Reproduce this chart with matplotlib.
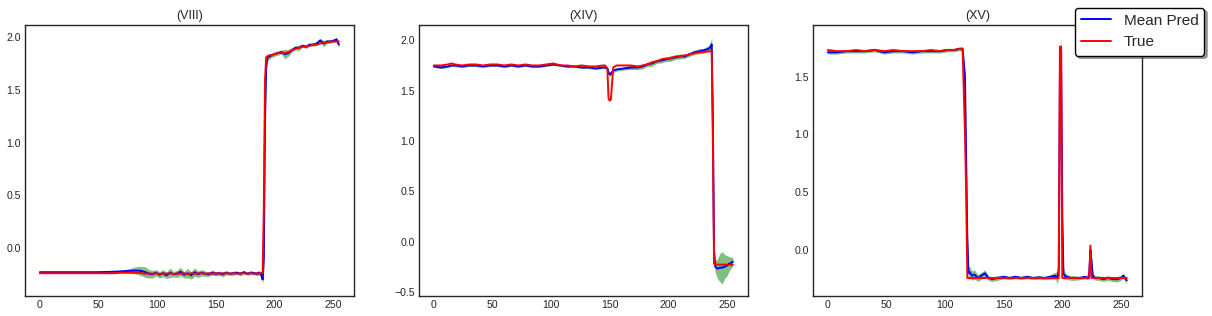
import matplotlib
matplotlib.use("Agg")
import matplotlib.pyplot as plt
import numpy as np

plt.style.use("seaborn-v0_8-white")
plt.rcParams['font.family'] = ['Liberation Sans', 'DejaVu Sans']

# ---- panel (VIII) ----
x_viii = [0, 8, 16, 24, 32, 40, 48, 56, 64, 70,
          76, 80, 84, 87, 90, 93, 96, 99, 102, 105,
          108, 111, 114, 117, 120, 123, 126, 129, 132, 135,
          138, 141, 144, 147, 150, 153, 156, 159, 162, 165,
          168, 171, 174, 177, 180, 183, 185, 187, 189, 190,
          191, 192, 193,
          194, 196, 198, 200, 203, 206, 209, 212, 215, 218, 221, 224,
          227, 230, 233, 236, 239, 242, 245, 248, 251, 253, 255]
true_viii = [-0.24, -0.24, -0.24, -0.24, -0.24, -0.24, -0.24, -0.24, -0.24, -0.235,
             -0.235, -0.235, -0.235, -0.24, -0.245, -0.24, -0.245, -0.24, -0.25, -0.24,
             -0.245, -0.24, -0.25, -0.24, -0.245, -0.24, -0.25, -0.24, -0.245, -0.24,
             -0.24, -0.245, -0.24, -0.245, -0.24, -0.245, -0.24, -0.24, -0.245, -0.24,
             -0.245, -0.24, -0.24, -0.245, -0.24, -0.245, -0.24, -0.245, -0.24, -0.24,
             0.4, 1.6, 1.81,
             1.82, 1.83, 1.83, 1.84, 1.85, 1.85, 1.85, 1.86, 1.88, 1.89, 1.90, 1.91,
             1.91, 1.92, 1.93, 1.93, 1.94, 1.95, 1.95, 1.96, 1.96, 1.96, 1.96]
mean_viii = [-0.23, -0.23, -0.23, -0.23, -0.23, -0.23, -0.23, -0.228, -0.225, -0.222,
             -0.218, -0.215, -0.215, -0.22, -0.23, -0.245, -0.25, -0.235, -0.255, -0.24,
             -0.26, -0.235, -0.25, -0.245, -0.225, -0.255, -0.24, -0.26, -0.23, -0.25,
             -0.235, -0.245, -0.25, -0.235, -0.245, -0.24, -0.25, -0.235, -0.245, -0.24,
             -0.235, -0.245, -0.23, -0.245, -0.235, -0.24, -0.245, -0.235, -0.26, -0.30,
             -0.1, 1.2, 1.72,
             1.80, 1.82, 1.83, 1.84, 1.85, 1.86, 1.84, 1.85, 1.88, 1.90, 1.90, 1.92,
             1.91, 1.93, 1.93, 1.94, 1.97, 1.94, 1.96, 1.96, 1.97, 1.98, 1.93]
std_viii = [0.005, 0.005, 0.005, 0.005, 0.005, 0.005, 0.005, 0.008, 0.01, 0.012,
            0.02, 0.03, 0.04, 0.045, 0.05, 0.04, 0.035, 0.03, 0.03, 0.035,
            0.03, 0.045, 0.025, 0.035, 0.04, 0.03, 0.045, 0.035, 0.04, 0.03,
            0.03, 0.025, 0.02, 0.025, 0.02, 0.02, 0.025, 0.02, 0.015, 0.02,
            0.015, 0.02, 0.015, 0.015, 0.02, 0.015, 0.02, 0.02, 0.025, 0.04,
            0.1, 0.12, 0.06,
            0.03, 0.025, 0.02, 0.02, 0.02, 0.02, 0.045, 0.03, 0.02, 0.02, 0.025, 0.015,
            0.015, 0.015, 0.015, 0.02, 0.02, 0.03, 0.02, 0.015, 0.015, 0.02, 0.03]

# ---- panel (XIV) ----
x_xiv = [0, 6, 12, 15, 18, 24, 30, 36, 42, 48,
         54, 60, 66, 72, 78, 84, 90, 96, 102, 108,
         114, 120, 126, 132, 138, 144, 146, 148, 149, 150,
         151, 153, 156, 162, 168, 174, 178, 182, 186, 190,
         194, 198, 202, 206, 210, 214, 218, 222, 226, 230,
         233, 235, 236, 237, 238, 239, 240, 242, 244, 246,
         248, 250, 252, 254, 255]
true_xiv = [1.75, 1.75, 1.76, 1.77, 1.76, 1.75, 1.76, 1.76, 1.75, 1.76,
            1.76, 1.75, 1.76, 1.75, 1.76, 1.75, 1.75, 1.76, 1.77, 1.75,
            1.75, 1.74, 1.75, 1.74, 1.74, 1.75, 1.75, 1.72, 1.42, 1.40,
            1.41, 1.73, 1.75, 1.75, 1.75, 1.74, 1.75, 1.76, 1.78, 1.79,
            1.81, 1.82, 1.82, 1.84, 1.84, 1.85, 1.86, 1.87, 1.88, 1.88,
            1.89, 1.89, 1.89, 1.89, 1.0, -0.22, -0.23, -0.23, -0.23, -0.23,
            -0.23, -0.23, -0.23, -0.23, -0.23]
mean_xiv = [1.74, 1.73, 1.74, 1.75, 1.75, 1.74, 1.75, 1.75, 1.74, 1.75,
            1.75, 1.74, 1.75, 1.74, 1.75, 1.74, 1.74, 1.75, 1.76, 1.75,
            1.74, 1.74, 1.73, 1.73, 1.72, 1.73, 1.73, 1.72, 1.68, 1.66,
            1.67, 1.70, 1.71, 1.72, 1.73, 1.73, 1.74, 1.76, 1.77, 1.79,
            1.80, 1.81, 1.82, 1.83, 1.84, 1.84, 1.86, 1.88, 1.89, 1.90,
            1.91, 1.92, 1.94, 1.96, 1.20, -0.10, -0.25, -0.27, -0.26, -0.26,
            -0.25, -0.24, -0.22, -0.21, -0.20]
std_xiv = [0.01, 0.012, 0.01, 0.01, 0.012, 0.01, 0.01, 0.012, 0.01, 0.01,
           0.01, 0.012, 0.01, 0.01, 0.01, 0.012, 0.01, 0.01, 0.01, 0.012,
           0.01, 0.01, 0.01, 0.01, 0.01, 0.012, 0.012, 0.015, 0.02, 0.02,
           0.02, 0.02, 0.015, 0.015, 0.02, 0.02, 0.025, 0.02, 0.03, 0.02,
           0.025, 0.02, 0.03, 0.02, 0.025, 0.02, 0.02, 0.02, 0.025, 0.02,
           0.03, 0.03, 0.04, 0.07, 0.15, 0.12, 0.06, 0.10, 0.14, 0.16,
           0.12, 0.10, 0.07, 0.05, 0.05]

# ---- panel (XV) ----
x_xv = [0, 8, 16, 24, 32, 40, 48, 56, 64, 72,
        80, 88, 96, 102, 108, 112, 115, 117, 118, 119,
        120, 121, 123, 125, 128, 131, 134, 137, 140, 145,
        150, 155, 160, 165, 170, 175, 180, 185, 190, 194,
        196, 197, 198, 199, 200, 201, 202, 204, 207, 211,
        215, 219, 222, 223, 224, 225, 226, 228, 231, 235,
        239, 243, 247, 250, 252, 254, 255]
true_xv = [1.73, 1.72, 1.72, 1.73, 1.72, 1.73, 1.72, 1.73, 1.72, 1.72,
           1.72, 1.73, 1.72, 1.73, 1.73, 1.74, 1.74, 1.0, 0.5, -0.24,
           -0.24, -0.24, -0.24, -0.24, -0.24, -0.24, -0.24, -0.24, -0.24, -0.24,
           -0.24, -0.24, -0.24, -0.24, -0.24, -0.24, -0.24, -0.24, -0.24, -0.24,
           -0.24, -0.24, 1.76, 1.76, -0.24, -0.24, -0.24, -0.24, -0.24, -0.24,
           -0.24, -0.24, -0.24, -0.24, 0.04, -0.24, -0.24, -0.24, -0.24, -0.24,
           -0.24, -0.24, -0.24, -0.24, -0.24, -0.24, -0.24]
mean_xv = [1.71, 1.71, 1.72, 1.72, 1.72, 1.73, 1.71, 1.72, 1.72, 1.71,
           1.72, 1.72, 1.72, 1.73, 1.73, 1.74, 1.74, 1.5, 0.8, 0.1,
           -0.20, -0.19, -0.22, -0.21, -0.24, -0.22, -0.20, -0.24, -0.25, -0.24,
           -0.23, -0.24, -0.23, -0.24, -0.23, -0.24, -0.235, -0.24, -0.23, -0.22,
           -0.24, -0.15, 1.5, 1.72, 0.3, -0.20, -0.22, -0.23, -0.24, -0.24,
           -0.24, -0.23, -0.24, -0.20, 0.0, -0.10, -0.22, -0.24, -0.24, -0.25,
           -0.24, -0.25, -0.25, -0.24, -0.22, -0.25, -0.26]
std_xv = [0.015, 0.015, 0.015, 0.015, 0.015, 0.015, 0.015, 0.015, 0.015, 0.015,
          0.015, 0.015, 0.015, 0.015, 0.015, 0.015, 0.02, 0.05, 0.08, 0.1,
          0.06, 0.05, 0.04, 0.04, 0.03, 0.03, 0.03, 0.02, 0.02, 0.02,
          0.015, 0.015, 0.015, 0.015, 0.015, 0.015, 0.015, 0.015, 0.02, 0.03,
          0.05, 0.06, 0.1, 0.12, 0.1, 0.05, 0.03, 0.02, 0.02, 0.02,
          0.015, 0.015, 0.015, 0.03, 0.04, 0.04, 0.02, 0.02, 0.02, 0.02,
          0.02, 0.02, 0.025, 0.02, 0.02, 0.025, 0.025]

titles = ['(VIII)', '(XIV)', '(XV)']
panels = [(x_viii, true_viii, mean_viii, std_viii),
          (x_xiv, true_xiv, mean_xiv, std_xiv),
          (x_xv, true_xv, mean_xv, std_xv)]

fig, axes = plt.subplots(1, 3, figsize=(12.12, 3.16), dpi=100)
fig.subplots_adjust(left=0.0206, right=0.942, top=0.921, bottom=0.063, wspace=0.198)

for ax, title, (x, y_true, y_mean, y_std) in zip(axes, titles, panels):
    x = np.array(x)
    m = np.array(y_mean)
    s = np.array(y_std)
    ax.fill_between(x, m - s, m + s, color='g', alpha=0.5, linewidth=0)
    ax.plot(x, m, color='b', lw=1.4, label='Mean Pred')
    ax.plot(x, y_true, color='r', lw=1.4, label='True')
    ax.set_title(title, fontsize=9, pad=4.3, color='.15')
    ax.set_xticks([0, 50, 100, 150, 200, 250])
    ax.tick_params(labelsize=7.6, pad=3, length=0, labelcolor='.15')
    for sp in ax.spines.values():
        sp.set_color('.15')
        sp.set_linewidth(1.0)

axes[2].set_yticks([0.0, 0.5, 1.0, 1.5])

handles, labels = axes[0].get_legend_handles_labels()
fig.legend(handles, labels, loc='upper right', bbox_to_anchor=(1.0, 1.0),
           fontsize=11, frameon=True, shadow=True, fancybox=True,
           edgecolor='black', framealpha=1)

plt.savefig('out.png', dpi=100)
